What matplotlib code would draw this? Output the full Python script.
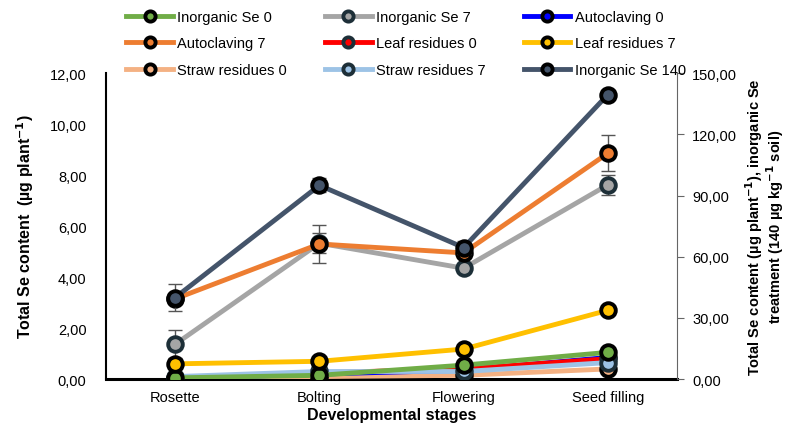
import matplotlib
matplotlib.use('Agg')
import matplotlib.pyplot as plt
from matplotlib.ticker import FuncFormatter

plt.rcParams['font.family'] = ['Liberation Sans', 'DejaVu Sans']

stages = ['Rosette', 'Bolting', 'Flowering', 'Seed filling']

# left axis series (ug plant-1)
inorg_se_0 = [0.05, 0.15, 0.55, 1.05]
inorg_se_7 = [1.37, 5.33, 4.35, 7.62]
inorg_se_7_err = [0.55, 0.4, 0.2, 0.4]
autoclav_0 = [0.02, 0.20, 0.35, 0.85]
autoclav_7 = [3.15, 5.30, 4.95, 8.86]
autoclav_7_err = [0.2, 0.75, 0.2, 0.7]
leaf_0 = [0.03, 0.25, 0.40, 0.80]
leaf_7 = [0.60, 0.70, 1.18, 2.70]
straw_0 = [0.00, 0.10, 0.15, 0.40]
straw_7 = [0.10, 0.30, 0.30, 0.65]

# right axis series
inorg_se_140 = [40.0, 95.0, 64.5, 139.5]
inorg_se_140_err = [6.5, 3.5, 3.0, 2.0]

fig = plt.figure(figsize=(7.91, 4.31), dpi=100)
ax = fig.add_axes([0.134, 0.118, 0.722, 0.71])
ax2 = ax.twinx()
x = range(len(stages))

def draw(a, y, col, label, edge='black', err=None):
    if err is not None:
        a.errorbar(x, y, yerr=err, fmt='none', ecolor='#555555', elinewidth=1,
                   capsize=5, capthick=1, zorder=2)
    line, = a.plot(x, y, color=col, lw=3.5, marker='o', ms=10.5, mfc=col,
                   mec=edge, mew=2.8, label=label, zorder=3)
    return line

h = {}
h['Inorganic Se 7'] = draw(ax, inorg_se_7, '#A5A5A5', 'Inorganic Se 7', '#1d2f38', inorg_se_7_err)
h['Autoclaving 7'] = draw(ax, autoclav_7, '#ED7D31', 'Autoclaving 7', 'black', autoclav_7_err)
h['Straw residues 0'] = draw(ax, straw_0, '#F4B183', 'Straw residues 0')
h['Autoclaving 0'] = draw(ax, autoclav_0, '#0000FF', 'Autoclaving 0')
h['Leaf residues 0'] = draw(ax, leaf_0, '#FF0000', 'Leaf residues 0', '#1d2f38')
h['Straw residues 7'] = draw(ax, straw_7, '#9DC3E6', 'Straw residues 7', '#1d2f38')
h['Inorganic Se 0'] = draw(ax, inorg_se_0, '#70AD47', 'Inorganic Se 0')
h['Leaf residues 7'] = draw(ax, leaf_7, '#FFC000', 'Leaf residues 7')
h['Inorganic Se 140'] = draw(ax2, inorg_se_140, '#44546A', 'Inorganic Se 140', 'black', inorg_se_140_err)

ax.set_xlim(-0.48, 3.48)
ax.set_ylim(0, 12)
ax2.set_ylim(0, 150)
ax.set_yticks([0, 2, 4, 6, 8, 10, 12])
ax2.set_yticks([0, 30, 60, 90, 120, 150])
comma = FuncFormatter(lambda v, p: '{:.2f}'.format(v).replace('.', ','))
ax.yaxis.set_major_formatter(comma)
ax2.yaxis.set_major_formatter(comma)
ax.set_xticks(list(x))
ax.set_xticklabels(stages)

for a in (ax, ax2):
    a.spines['top'].set_visible(False)
    a.tick_params(labelsize=10.5)
ax.spines['left'].set_linewidth(1.5)
ax.spines['bottom'].set_linewidth(2.2)
ax.spines['right'].set_visible(False)
ax2.spines['left'].set_visible(False)
ax2.spines['bottom'].set_visible(False)
ax2.spines['right'].set_color('#666666')
ax.tick_params(axis='y', length=0, pad=14)
ax.tick_params(axis='x', length=0, pad=8)
ax2.tick_params(axis='y', length=5, color='#666666', pad=6)

ax.set_xlabel('Developmental stages', fontsize=11.5, fontweight='bold', labelpad=2)
ax.set_ylabel('Total Se content  (µg plant$^{\\mathbf{-1}}$)', fontsize=11.5,
              fontweight='bold', labelpad=10)
ax2.set_ylabel('Total Se content (µg plant$^{\\mathbf{-1}}$), inorganic Se\n'
               'treatment (140 µg kg$^{\\mathbf{-1}}$ soil)', fontsize=10.5,
               fontweight='bold', rotation=90, labelpad=4, linespacing=1.0)

order = ['Inorganic Se 0', 'Autoclaving 7', 'Straw residues 0',
         'Inorganic Se 7', 'Leaf residues 0', 'Straw residues 7',
         'Autoclaving 0', 'Leaf residues 7', 'Inorganic Se 140']
fig.legend([h[k] for k in order], order, ncol=3, loc='upper left',
           bbox_to_anchor=(0.143, 1.005), frameon=False, fontsize=10.5,
           handlelength=3.2, columnspacing=2.6, labelspacing=0.85,
           handletextpad=0.3, markerscale=0.7)

fig.savefig('out.png', dpi=100)
